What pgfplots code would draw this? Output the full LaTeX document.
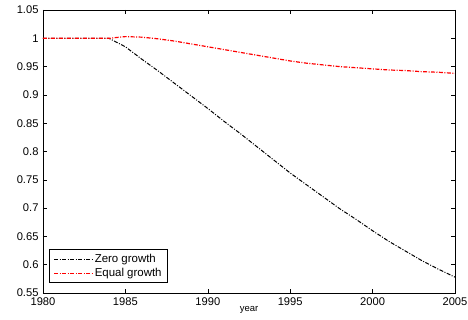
\documentclass[border=0pt]{standalone}
\usepackage{fontspec}
\setmainfont{Liberation Sans}
\usepackage{pgfplots}
\pgfplotsset{compat=1.18}
\begin{document}
\begin{tikzpicture}
\begin{axis}[
  name=ax,
  scale only axis,
  width=412bp, height=283bp,
  xmin=1980, xmax=2005, ymin=0.55, ymax=1.05,
  xtick={1980,1985,...,2005},
  ytick={0.55,0.6,0.65,0.7,0.75,0.8,0.85,0.9,0.95,1,1.05},
  yticklabels={0.55,0.6,0.65,0.7,0.75,0.8,0.85,0.9,0.95,1,1.05},
  /pgf/number format/1000 sep={},
  /pgf/number format/assume math mode=true,
  tick align=inside,
  tick pos=both,
  major tick length=4bp,
  tick style={black, line width=0.6pt},
  axis line style={line width=0.8pt},
  tick label style={font=\fontsize{11.2}{12}\selectfont},
  yticklabel style={xshift=-1bp},
  xticklabel style={yshift=-1bp},
  xlabel={year},
  xlabel style={font=\fontsize{9.5}{10}\selectfont, yshift=5.5pt},
  legend style={at={(0.015,0.035)}, anchor=south west, font=\fontsize{11.5}{12}\selectfont, draw=black, line width=0.8pt, inner xsep=4pt, inner ysep=2.5pt, row sep=0.5pt, nodes={inner xsep=2pt}},
  legend cell align=left,
  legend image code/.code={\draw[#1] (0bp,0bp) -- (38bp,0bp);},
]
\addplot[black, line width=1pt, dash pattern=on 4pt off 1.5pt on 1pt off 1.5pt] coordinates {
(1980,1.0) (1981,1.0) (1982,1.0) (1983,1.0) (1984,1.0)
(1985,0.985) (1986,0.963) (1987,0.942) (1988,0.92) (1989,0.898)
(1990,0.876) (1991,0.853) (1992,0.831) (1993,0.808) (1994,0.785)
(1995,0.762) (1996,0.741) (1997,0.72) (1998,0.699) (1999,0.68)
(2000,0.66) (2001,0.641) (2002,0.624) (2003,0.607) (2004,0.592) (2005,0.578)
};
\addlegendentry{Zero growth}
\addplot[red, line width=1.2pt, dash pattern=on 4pt off 1.5pt on 1pt off 1.5pt] coordinates {
(1980,1.0) (1981,1.0) (1982,1.0) (1983,1.0) (1984,1.0)
(1985,1.003) (1986,1.002) (1987,0.999) (1988,0.995) (1989,0.99)
(1990,0.985) (1991,0.98) (1992,0.975) (1993,0.97) (1994,0.965)
(1995,0.96) (1996,0.956) (1997,0.953) (1998,0.95) (1999,0.948)
(2000,0.946) (2001,0.944) (2002,0.943) (2003,0.941) (2004,0.94) (2005,0.938)
};
\addlegendentry{Equal growth}
\end{axis}
\pgfresetboundingbox
\path ([shift={(-43bp,-27bp)}]ax.south west) rectangle ([shift={(13bp,10bp)}]ax.north east);
\end{tikzpicture}
\end{document}
